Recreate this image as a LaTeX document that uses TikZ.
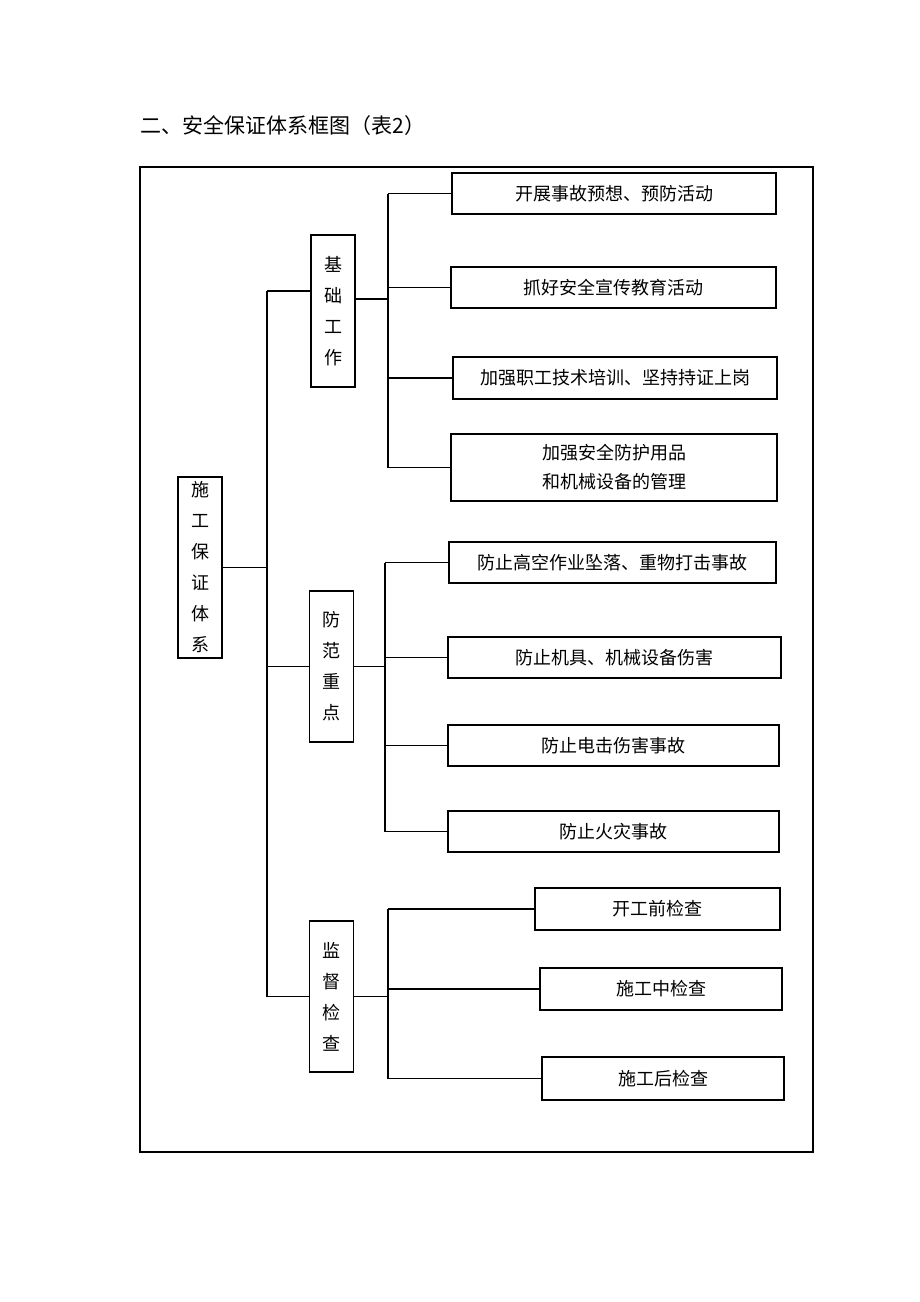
\documentclass[tikz,border=0pt]{standalone}
\usepackage{fontspec}
\newfontfamily\cjk{Noto Sans CJK SC}

\begin{document}
\begin{tikzpicture}[x=1pt, y=-1pt, line width=1.3pt,
  every node/.style={font=\cjk\fontsize{18}{31}\selectfont, inner sep=0pt},
  leaf/.style={draw, minimum height=41pt},
  group/.style={draw, minimum width=44pt, align=center}]
  \useasboundingbox (0,0) rectangle (920,1302);

  % title and frame
  \node[anchor=west, font=\cjk\fontsize{21}{24}\selectfont] (title) at (140,126) {二、安全保证体系框图（表2）};
  \draw (140,167) rectangle (813,1152);

  % main box and groups
  \node[group, minimum height=181pt] (sys) at (200,567.5) {施\\工\\保\\证\\体\\系};
  \node[group, minimum height=152pt] (jc) at (333,311) {基\\础\\工\\作};
  \node[group, minimum height=151pt] (ff) at (331.5,666.5) {防\\范\\重\\点};
  \node[group, minimum height=151pt] (jd) at (331.5,996.5) {监\\督\\检\\查};

  % leaves
  \node[leaf, minimum width=324pt] (l1) at (614,193.5) {开展事故预想、预防活动};
  \node[leaf, minimum width=325pt] (l2) at (613.5,287.5) {抓好安全宣传教育活动};
  \node[leaf, minimum width=324pt, minimum height=42pt] (l3) at (615,378) {加强职工技术培训、坚持持证上岗};
  \node[leaf, minimum width=326pt, minimum height=67pt, align=center,
        font=\cjk\fontsize{18}{29}\selectfont] (l4) at (614,467.5) {加强安全防护用品\\和机械设备的管理};
  \node[leaf, minimum width=327pt] (l5) at (612.5,562.5) {防止高空作业坠落、重物打击事故};
  \node[leaf, minimum width=333pt] (l6) at (614.5,657.5) {防止机具、机械设备伤害};
  \node[leaf, minimum width=331pt] (l7) at (613.5,745.5) {防止电击伤害事故};
  \node[leaf, minimum width=331pt] (l8) at (613.5,831.5) {防止火灾事故};
  \node[leaf, minimum width=245pt, minimum height=42pt] (l9) at (657.5,909) {开工前检查};
  \node[leaf, minimum width=242pt, minimum height=42pt] (l10) at (661,989) {施工中检查};
  \node[leaf, minimum width=242pt, minimum height=43pt] (l11) at (663,1078.5) {施工后检查};

  % bus lines
  \coordinate (trunk) at (267,0);
  \coordinate (jcbus) at (388,0);
  \coordinate (ffbus) at (385,0);
  \coordinate (jdbus) at (388,0);

  % main trunk
  \draw (sys.east) -- (sys.east -| trunk);
  \draw ([yshift=20pt]jc.west -| trunk) -- (jd.west -| trunk);
  \draw ([yshift=20pt]jc.west -| trunk) -- ([yshift=20pt]jc.west);
  \draw (ff.west -| trunk) -- (ff.west);
  \draw (jd.west -| trunk) -- (jd.west);

  % basic work
  \draw ([yshift=12pt]jc.east) -- ([yshift=12pt]jc.east -| jcbus);
  \draw (l1.west -| jcbus) -- (l4.west -| jcbus);
  \draw (l1.west -| jcbus) -- (l1.west);
  \draw (l2.west -| jcbus) -- (l2.west);
  \draw (l3.west -| jcbus) -- (l3.west);
  \draw (l4.west -| jcbus) -- (l4.west);

  % prevention
  \draw (ff.east) -- (ff.east -| ffbus);
  \draw (l5.west -| ffbus) -- (l8.west -| ffbus);
  \draw (l5.west -| ffbus) -- (l5.west);
  \draw (l6.west -| ffbus) -- (l6.west);
  \draw (l7.west -| ffbus) -- (l7.west);
  \draw (l8.west -| ffbus) -- (l8.west);

  % inspection
  \draw (jd.east) -- (jd.east -| jdbus);
  \draw (l9.west -| jdbus) -- (l11.west -| jdbus);
  \draw (l9.west -| jdbus) -- (l9.west);
  \draw (l10.west -| jdbus) -- (l10.west);
  \draw (l11.west -| jdbus) -- (l11.west);
\end{tikzpicture}
\end{document}
